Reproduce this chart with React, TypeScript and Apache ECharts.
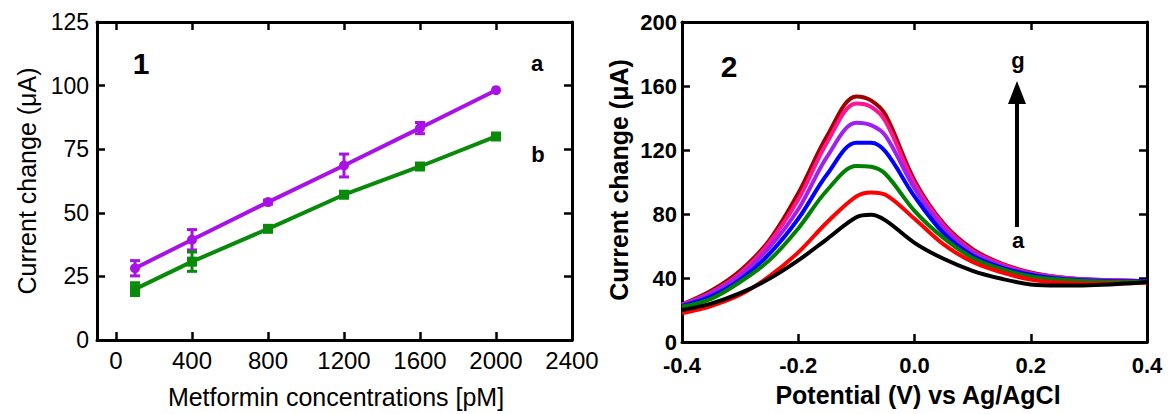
import React, { useEffect, useRef } from "react";
import * as echarts from "echarts";

// Panel 1 data
const concentrations = [100, 400, 800, 1200, 1600, 2000];
const seriesA = [28.2, 39.4, 54.2, 68.6, 83.3, 98.2];
const errA = [3, 4, 0.8, 4.5, 2.2, 0];
const seriesB = [20, 30.8, 43.7, 57.1, 68.2, 80.0];
const errB = [2.5, 3.8, 0, 0, 0, 0];
const xTicks1 = [0, 400, 800, 1200, 1600, 2000, 2400];

// Panel 2 data
const potentials = [-0.4, -0.35, -0.3, -0.25, -0.2, -0.15, -0.1, -0.075, -0.05, 0, 0.05, 0.1, 0.15, 0.2, 0.25, 0.3, 0.35, 0.4];
const curveA = [20, 24, 30.5, 39.5, 51, 64.5, 78, 79.5, 76, 62, 52, 44.5, 39.5, 36, 35.3, 35.5, 36.3, 37.5];
const curveB = [18, 22.5, 29.5, 41, 56, 75, 91, 93.5, 92, 77, 61, 50, 43.5, 39, 37, 36.5, 36.5, 37];
const curveC = [22, 27, 37.5, 51, 71, 95, 110, 109.5, 105, 82, 65, 52.5, 45.5, 41, 39, 38, 37.5, 37.5];
const curveD = [22.5, 28.5, 39, 55, 77, 105, 124.5, 124.5, 119, 91, 68, 54, 46.5, 42, 39.5, 38.5, 38, 38];
const curveE = [23, 30.5, 41.5, 59, 83, 116, 137, 135.5, 129, 96, 71, 56, 47.5, 42.5, 40, 39, 38.5, 38];
const curveF = [23.5, 31, 43, 62, 89, 125, 149, 147, 138, 99, 73, 57, 48.5, 43, 40.5, 39, 38.5, 38];
const curveG = [23.5, 32, 44.5, 63.5, 93, 129, 153.5, 151, 142, 101, 74, 58, 49, 43.5, 40.5, 39, 38.5, 38];
const curveNames = ["a", "b", "c", "d", "e", "f", "g"];
const curveColors = ["#000000", "#ff0000", "#008000", "#0000ff", "#a020f0", "#ff1493", "#a00000"];

const FONT = "'Liberation Sans', Arial, Helvetica, sans-serif";
const PURPLE = "#a812e6";
const GREEN = "#0a8a0a";

function errorSeries(vals: number[], errs: number[], color: string) {
  return {
    type: "custom",
    xAxisIndex: 0,
    yAxisIndex: 0,
    z: 4,
    encode: { x: 0, y: 1 },
    data: concentrations.map((c, i) => [c, vals[i], errs[i]]),
    renderItem: (params: any, api: any) => {
      const x = api.value(0);
      const y = api.value(1);
      const e = api.value(2);
      if (!e) return null;
      const top = api.coord([x, y + e]);
      const bot = api.coord([x, y - e]);
      const hw = 5;
      const st = { stroke: color, lineWidth: 3 };
      return {
        type: "group",
        children: [
          { type: "line", shape: { x1: top[0], y1: top[1], x2: bot[0], y2: bot[1] }, style: st },
          { type: "line", shape: { x1: top[0] - hw, y1: top[1], x2: top[0] + hw, y2: top[1] }, style: st },
          { type: "line", shape: { x1: bot[0] - hw, y1: bot[1], x2: bot[0] + hw, y2: bot[1] }, style: st },
        ],
      };
    },
  };
}

export default function App() {
  const ref = useRef<HTMLDivElement>(null);
  useEffect(() => {
    if (!ref.current) return;
    const chart = echarts.init(ref.current, null, { renderer: "svg" });
    const axisLine = { show: true, onZero: false, lineStyle: { color: "#000", width: 3 } };
    const tick = (extra: any = {}) => ({ show: true, inside: true, length: 8, lineStyle: { color: "#000", width: 2.5 }, ...extra });
    const curves = [curveA, curveB, curveC, curveD, curveE, curveF, curveG];
    const drawOrder = [6, 5, 4, 3, 2, 1, 0];
    const option: any = {
      animation: false,
      backgroundColor: "#fff",
      grid: [
        { left: 97, top: 22, width: 475, height: 318 },
        { left: 682, top: 22, width: 465, height: 320 },
      ],
      xAxis: [
        {
          type: "value", gridIndex: 0, min: -100, max: 2400, position: "bottom",
          axisLine, splitLine: { show: false },
          axisTick: tick({ customValues: xTicks1 }),
          axisLabel: { customValues: xTicks1, color: "#000", fontSize: 24, fontFamily: FONT, margin: 8, formatter: (v: number) => String(v) },
        },
        {
          type: "value", gridIndex: 0, min: -100, max: 2400, position: "top",
          axisLine, splitLine: { show: false },
          axisTick: tick({ customValues: xTicks1 }),
          axisLabel: { show: false },
        },
        {
          type: "value", gridIndex: 1, min: -0.4, max: 0.4, interval: 0.2, position: "bottom",
          axisLine, splitLine: { show: false }, axisTick: tick(),
          axisLabel: {
            color: "#000", fontSize: 22, fontWeight: "bold", fontFamily: FONT, margin: 12,
            formatter: (v: number) => (Math.abs(v) < 1e-9 ? "0.0" : v.toFixed(1)),
          },
        },
        {
          type: "value", gridIndex: 1, min: -0.4, max: 0.4, interval: 0.2, position: "top",
          axisLine, splitLine: { show: false }, axisTick: tick(), axisLabel: { show: false },
        },
      ],
      yAxis: [
        {
          type: "value", gridIndex: 0, min: 0, max: 125, interval: 25, position: "left",
          axisLine, splitLine: { show: false }, axisTick: tick(),
          axisLabel: { color: "#000", fontSize: 23, fontFamily: FONT, margin: 8 },
        },
        {
          type: "value", gridIndex: 0, min: 0, max: 125, interval: 25, position: "right",
          axisLine, splitLine: { show: false }, axisTick: tick(), axisLabel: { show: false },
        },
        {
          type: "value", gridIndex: 1, min: 0, max: 200, interval: 40, position: "left",
          axisLine, splitLine: { show: false }, axisTick: tick(),
          axisLabel: { color: "#000", fontSize: 22, fontWeight: "bold", fontFamily: FONT, margin: 5 },
        },
        {
          type: "value", gridIndex: 1, min: 0, max: 200, interval: 40, position: "right",
          axisLine, splitLine: { show: false }, axisTick: tick(), axisLabel: { show: false },
        },
      ],
      series: [
        {
          name: "a", type: "line", xAxisIndex: 0, yAxisIndex: 0, z: 3,
          data: concentrations.map((c, i) => [c, seriesA[i]]),
          symbol: "circle", symbolSize: 10,
          lineStyle: { color: PURPLE, width: 4 }, itemStyle: { color: PURPLE },
        },
        {
          name: "b", type: "line", xAxisIndex: 0, yAxisIndex: 0, z: 3,
          data: concentrations.map((c, i) => [c, seriesB[i]]),
          symbol: "rect", symbolSize: 10,
          lineStyle: { color: GREEN, width: 4 }, itemStyle: { color: GREEN },
        },
        errorSeries(seriesA, errA, PURPLE),
        errorSeries(seriesB, errB, GREEN),
        ...drawOrder.map((k) => ({
          name: curveNames[k], type: "line", xAxisIndex: 2, yAxisIndex: 2,
          data: potentials.map((p, i) => [p, curves[k][i]]),
          smooth: 0.35, symbol: "none",
          lineStyle: { color: curveColors[k], width: 4 },
        })),
      ],
      graphic: [
        { type: "text", x: 27, y: 181, rotation: Math.PI / 2, style: { text: "Current change (\u03bcA)", fontSize: 25, fontFamily: FONT, fill: "#000", align: "center", verticalAlign: "middle" } },
        { type: "text", x: 336, y: 397, style: { text: "Metformin concentrations [pM]", fontSize: 25, fontFamily: FONT, fill: "#000", align: "center", verticalAlign: "middle" } },
        { type: "text", x: 619, y: 180, rotation: Math.PI / 2, style: { text: "Current change (\u03bcA)", fontSize: 25, fontWeight: "bold", fontFamily: FONT, fill: "#000", align: "center", verticalAlign: "middle" } },
        { type: "text", x: 918, y: 395, style: { text: "Potential (V) vs Ag/AgCl", fontSize: 25, fontWeight: "bold", fontFamily: FONT, fill: "#000", align: "center", verticalAlign: "middle" } },
        { type: "text", x: 141, y: 63, style: { text: "1", fontSize: 30, fontWeight: "bold", fontFamily: FONT, fill: "#000", align: "center", verticalAlign: "middle" } },
        { type: "text", x: 537, y: 63, style: { text: "a", fontSize: 22, fontWeight: "bold", fontFamily: FONT, fill: "#000", align: "center", verticalAlign: "middle" } },
        { type: "text", x: 538, y: 154, style: { text: "b", fontSize: 22, fontWeight: "bold", fontFamily: FONT, fill: "#000", align: "center", verticalAlign: "middle" } },
        { type: "text", x: 729, y: 66, style: { text: "2", fontSize: 30, fontWeight: "bold", fontFamily: FONT, fill: "#000", align: "center", verticalAlign: "middle" } },
        { type: "text", x: 1018, y: 60, style: { text: "g", fontSize: 22, fontWeight: "bold", fontFamily: FONT, fill: "#000", align: "center", verticalAlign: "middle" } },
        { type: "text", x: 1018, y: 240, style: { text: "a", fontSize: 22, fontWeight: "bold", fontFamily: FONT, fill: "#000", align: "center", verticalAlign: "middle" } },
        { type: "line", shape: { x1: 1017, y1: 102, x2: 1017, y2: 227 }, style: { stroke: "#000", lineWidth: 4 } },
        { type: "polygon", shape: { points: [[1017, 81], [1008, 104], [1026, 104]] }, style: { fill: "#000" } },
      ],
    };
    chart.setOption(option);
    return () => chart.dispose();
  }, []);
  return <div ref={ref} style={{ position: "fixed", left: 0, top: 0, width: 1168, height: 414 }} />;
}
